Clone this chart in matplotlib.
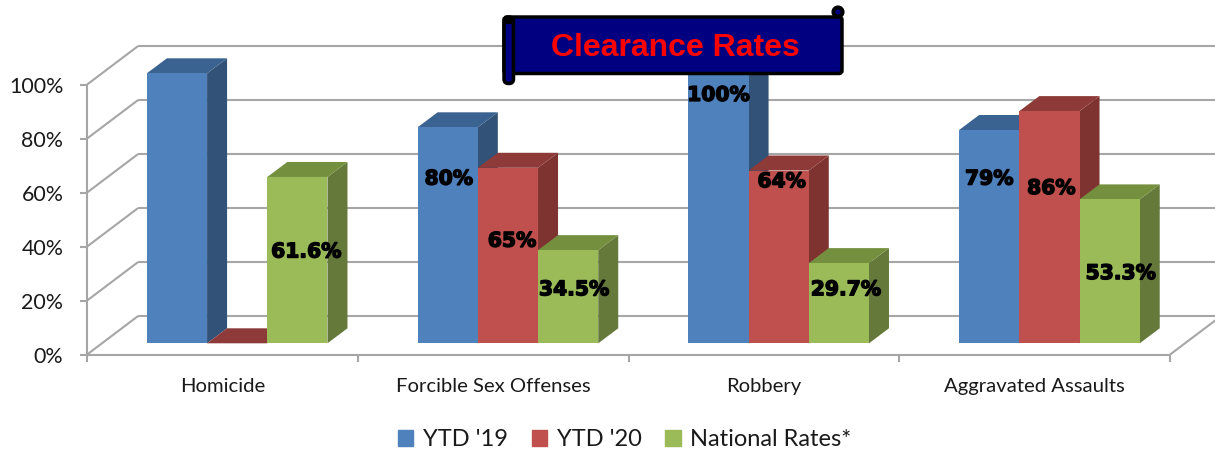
import matplotlib
matplotlib.use("Agg")
import matplotlib.pyplot as plt
import matplotlib.patheffects as pe
from matplotlib.patches import Patch, Polygon, Circle, FancyBboxPatch

categories = ["Homicide", "Forcible Sex Offenses", "Robbery", "Aggravated Assaults"]
ytd_19 = [100, 80, 100, 79]
ytd_20 = [0, 65, 64, 86]
national = [61.6, 34.5, 29.7, 53.3]
series_names = ["YTD '19", "YTD '20", "National Rates*"]

label_19 = [None, "80%", "100%", "79%"]
label_20 = [None, "65%", "64%", "86%"]
label_nat = ["61.6%", "34.5%", "29.7%", "53.3%"]

# hand placed data labels, (x shift from bar centre, y on the percent scale)
label_pos_19 = [None, (0.004, 65), (0.0, 96), (0.0, 65)]
label_pos_20 = [None, (0.015, 42), (0.011, 64), (0.007, 61.5)]
label_pos_nat = [(0.033, 38), (0.022, 24), (0.026, 24), (0.041, 30)]

front = ["#4F81BD", "#C0504D", "#9BBB59"]
side = ["#325277", "#7F3331", "#65793A"]
top = ["#3B6391", "#8E3A38", "#74903F"]
grid_col = "#A6A6A6"

W, H = 1215, 449
CAT_PX = 270.75
PCT_PX = 2.7
bar_w = 60.2 / CAT_PX
wall_dx, wall_dy = 51 / CAT_PX, 38.5 / PCT_PX    # depth of the floor
bar_dx, bar_dy = 20 / CAT_PX, 15 / PCT_PX        # depth of a bar
shift_x, shift_y = 14.8 / CAT_PX, 11.3 / PCT_PX  # bars stand back from the front edge

fig = plt.figure(figsize=(W / 100, H / 100), dpi=100)
ax = fig.add_axes([87 / W, 1 - 354.6 / H, 1083 / W, 270 / H])
ax.set_xlim(-0.5, 3.5)
ax.set_ylim(0, 100)
ax.patch.set_visible(False)
for s in ax.spines.values():
    s.set_visible(False)

# walls and floor
line_kw = dict(color=grid_col, lw=1.5, clip_on=False, zorder=1, solid_capstyle="butt")
for y in range(0, 101, 20):
    ax.plot([-0.5, -0.5 + wall_dx], [y, y + wall_dy], **line_kw)
    ax.plot([-0.5 + wall_dx, 3.5 + wall_dx], [y + wall_dy, y + wall_dy], **line_kw)
ax.plot([-0.5, -0.5], [0, 100], **line_kw)
ax.plot([-0.5, 3.5], [0, 0], **line_kw)
ax.plot([3.5, 3.5 + wall_dx], [0, wall_dy], **line_kw)

# bars, left to right so that each one covers the side of the one before
zo = 2
for i in range(len(categories)):
    for j, vals in enumerate([ytd_19, ytd_20, national]):
        v = vals[i]
        x0 = i + shift_x + (j - 1.5) * bar_w
        x1 = x0 + bar_w
        y0 = shift_y
        y1 = shift_y + v
        ax.fill([x1, x1 + bar_dx, x1 + bar_dx, x1],
                [y0, y0 + bar_dy, y1 + bar_dy, y1],
                color=side[j], lw=0, zorder=zo, clip_on=False)
        ax.fill([x0, x0 + bar_dx, x1 + bar_dx, x1],
                [y1, y1 + bar_dy, y1 + bar_dy, y1],
                color=top[j], lw=0, zorder=zo, clip_on=False)
        ax.bar(x0, v, width=bar_w, bottom=y0, align="edge", color=front[j],
               lw=0, zorder=zo + 0.5, clip_on=False)
        zo += 1

# data labels
stroke = [pe.withStroke(linewidth=1.0, foreground="black")]
for j, (labels, places) in enumerate(zip([label_19, label_20, label_nat],
                                         [label_pos_19, label_pos_20, label_pos_nat])):
    for i, (txt, place) in enumerate(zip(labels, places)):
        if txt is None:
            continue
        xc = i + shift_x + (j - 1) * bar_w
        ax.text(xc + place[0], place[1], txt, ha="center", va="center",
                family="DejaVu Sans", weight="bold", fontsize=14.6,
                color="black", path_effects=stroke, zorder=100)

# axes ticks
ax.set_yticks(range(0, 101, 20))
ax.set_yticklabels([f"{y}%" for y in range(0, 101, 20)], family="Lato", fontsize=15.4,
                   color="#1a1a1a")
ax.tick_params(axis="y", length=5, width=1.5, color=grid_col, pad=12)
ax.set_xticks([-0.5, 0.5, 1.5, 2.5, 3.5])
ax.set_xticklabels([])
ax.tick_params(axis="x", which="major", length=5, width=1.5, color=grid_col)
ax.set_xticks(range(4), minor=True)
ax.set_xticklabels(categories, minor=True, family="Lato", fontsize=14.6, color="#1a1a1a")
ax.tick_params(axis="x", which="minor", length=0, pad=16.5)

handles = [Patch(color=c) for c in front]
fig.legend(handles, series_names, loc="lower center", bbox_to_anchor=(625 / W, -0.018), ncol=3,
           frameon=False, prop={"family": "Lato", "size": 17}, handlelength=0.64,
           handleheight=0.64, handletextpad=0.42, columnspacing=1.0, labelcolor="#1a1a1a",
           borderaxespad=0, borderpad=0.3)

# the scroll banner sits on top of the chart, drawn in pixels
over = fig.add_axes([0, 0, 1, 1])
over.set_xlim(0, W)
over.set_ylim(H, 0)
over.axis("off")
navy = "#000080"
over.add_patch(Circle((838, 12), 4.6, fc=navy, ec="black", lw=2.8, zorder=1))
over.add_patch(FancyBboxPatch((504, 17), 338, 56.5, boxstyle="round,pad=0,rounding_size=3",
                              fc=navy, ec="black", lw=2.5, zorder=2))
over.add_patch(FancyBboxPatch((504, 17), 9.5, 66.5, boxstyle="round,pad=0,rounding_size=4.5",
                              fc=navy, ec="black", lw=2.5, zorder=3))
over.add_patch(Polygon([[506, 19], [512, 19], [512, 24], [506, 24]], fc="black", ec="none", zorder=4))
over.text(675.5, 48.5, "Clearance Rates", ha="center", va="center", color="#FF0000",
          family="Liberation Sans", weight="bold", fontsize=23, zorder=5)

fig.savefig("out.png", dpi=100)
